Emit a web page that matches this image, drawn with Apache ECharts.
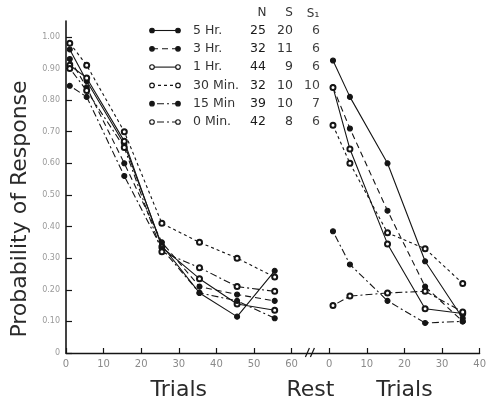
<!DOCTYPE html>
<html><head><meta charset="utf-8">
<script src="https://cdn.jsdelivr.net/npm/echarts@6/dist/echarts.min.js"></script>
<style>html,body{margin:0;padding:0;background:#fff}#c{width:489px;height:404px}</style>
</head><body><div id="c"></div>
<script>
// ---- data ----
const groupNames = ['5 Hr.', '3 Hr.', '1 Hr.', '30 Min.', '15 Min', '0 Min.'];
const nValues = [25, 32, 44, 32, 39, 42];
const sValues = [20, 11, 9, 10, 10, 8];
const s1Values = [6, 6, 6, 10, 7, 6];

const trialsBefore = [1, 5.5, 15.5, 25.5, 35.5, 45.5, 55.5];
const trialsAfter = [1, 5.5, 15.5, 25.5, 35.5];
const restOffset = 70; // right-hand trial scale begins after the rest break

const before5Hr  = [0.96, 0.86, 0.66, 0.34, 0.19, 0.115, 0.26];
const before3Hr  = [0.93, 0.84, 0.60, 0.35, 0.21, 0.185, 0.165];
const before1Hr  = [0.91, 0.87, 0.67, 0.335, 0.235, 0.155, 0.135];
const before30Min = [0.98, 0.91, 0.70, 0.41, 0.35, 0.30, 0.24];
const before15Min = [0.845, 0.81, 0.56, 0.33, 0.19, 0.165, 0.11];
const before0Min  = [0.90, 0.83, 0.65, 0.32, 0.27, 0.21, 0.195];

const after5Hr  = [0.925, 0.81, 0.60, 0.29, 0.11];
const after3Hr  = [0.84, 0.71, 0.45, 0.21, 0.10];
const after1Hr  = [0.84, 0.645, 0.345, 0.14, 0.125];
const after30Min = [0.72, 0.60, 0.38, 0.33, 0.22];
const after15Min = [0.385, 0.28, 0.165, 0.095, 0.10];
const after0Min  = [0.15, 0.18, 0.19, 0.195, 0.13];

const yTicks = [0, 0.1, 0.2, 0.3, 0.4, 0.5, 0.6, 0.7, 0.8, 0.9, 1.0];
const xTicks = [0, 10, 20, 30, 40, 50, 60, 70, 80, 90, 100, 110];

// ---- styles ----
const beforeSets = [before5Hr, before3Hr, before1Hr, before30Min, before15Min, before0Min];
const afterSets = [after5Hr, after3Hr, after1Hr, after30Min, after15Min, after0Min];
const dashes = ['solid', [6, 4], 'solid', [3, 3], [2, 3, 7, 3], [2, 3, 7, 3]];
const filled = [true, true, false, false, true, false];
const INK = '#151515';
const FONT = 'DejaVu Sans';

const series = [];
groupNames.forEach((name, i) => {
  const common = {
    type: 'line', name: name, animation: false,
    symbol: filled[i] ? 'circle' : 'emptyCircle', symbolSize: 5,
    itemStyle: { color: INK, borderColor: INK, borderWidth: 1.1 },
    lineStyle: { color: INK, width: 1.1, type: dashes[i] },
    emphasis: { disabled: true }
  };
  series.push(Object.assign({}, common, { data: trialsBefore.map((t, k) => [t, beforeSets[i][k]]) }));
  series.push(Object.assign({}, common, { data: trialsAfter.map((t, k) => [t + restOffset, afterSets[i][k]]) }));
});

const chart = echarts.init(document.getElementById('c'), null, { renderer: 'canvas' });
chart.setOption({
  backgroundColor: '#fff',
  animation: false,
  grid: { left: 66, right: 2, top: 21, bottom: 51 },
  xAxis: {
    type: 'value', min: 0, max: 110, interval: 10,
    axisLine: { lineStyle: { color: INK, width: 1.4 } },
    axisTick: { inside: true, length: 5, lineStyle: { color: INK, width: 1.2 }, customValues: xTicks },
    axisLabel: {
      customValues: xTicks, color: '#8a8a8a', fontSize: 10, fontFamily: FONT, margin: 6,
      formatter: v => (v <= 60 ? String(v) : String(v - restOffset))
    },
    splitLine: { show: false }
  },
  yAxis: {
    type: 'value', min: 0, max: 1.05,
    name: 'Probability of Response', nameLocation: 'middle', nameGap: 35,
    nameTextStyle: { color: '#2a2a2a', fontSize: 22, fontFamily: FONT, fontWeight: 'normal', padding: [0, 44, 0, 0] },
    axisLine: { show: true, lineStyle: { color: INK, width: 1.6 } },
    axisTick: { show: true, inside: true, length: 6, lineStyle: { color: INK, width: 1.2 }, customValues: yTicks },
    axisLabel: {
      customValues: yTicks, color: '#9a9a9a', fontSize: 8, fontFamily: FONT, margin: 6,
      formatter: v => (v === 0 ? '0' : v.toFixed(2))
    },
    splitLine: { show: false }
  },
  series: series
});

// ---- decorations: legend table, axis captions, break mark ----
const g = [];
const rowY0 = 30.5, rowStep = 18.3;
const txt = (x, y, s, align, size, color) => ({
  type: 'text', x: x, y: y, silent: true,
  style: { text: s, fill: color || '#222', font: `normal ${size || 12}px "${FONT}"`, align: align || 'left', verticalAlign: 'middle' }
});
g.push(txt(262, 13, 'N', 'center', 12, '#333'));
g.push(txt(289, 13, 'S', 'center', 12, '#333'));
g.push(txt(313, 14, 'S₁', 'center', 12, '#333'));
groupNames.forEach((name, i) => {
  const y = rowY0 + i * rowStep;
  g.push({ type: 'line', silent: true, shape: { x1: 152, y1: y, x2: 178, y2: y },
    style: { stroke: INK, lineWidth: 1.1, lineDash: Array.isArray(dashes[i]) ? dashes[i] : null } });
  [152, 178].forEach(cx => g.push({ type: 'circle', silent: true, shape: { cx: cx, cy: y, r: 2.3 },
    style: { fill: filled[i] ? INK : '#fff', stroke: INK, lineWidth: 1.1 } }));
  g.push(txt(193, y, name, 'left', 12.5, '#333'));
  g.push(txt(266, y, String(nValues[i]), 'right', 12.5, '#1a1a1a'));
  g.push(txt(293, y, String(sValues[i]), 'right', 12.5, '#333'));
  g.push(txt(320, y, String(s1Values[i]), 'right', 12.5, '#444'));
});
const y0 = chart.convertToPixel({ gridIndex: 0 }, [0, 0])[1];
const capY = 390;
g.push(txt(chart.convertToPixel({ gridIndex: 0 }, [30, 0])[0], capY, 'Trials', 'center', 22, '#2a2a2a'));
g.push(txt(chart.convertToPixel({ gridIndex: 0 }, [65, 0])[0], capY, 'Rest', 'center', 22, '#2a2a2a'));
g.push(txt(chart.convertToPixel({ gridIndex: 0 }, [90, 0])[0], capY, 'Trials', 'center', 22, '#2a2a2a'));
const bx = chart.convertToPixel({ gridIndex: 0 }, [65, 0])[0];
g.push({ type: 'rect', silent: true, shape: { x: bx - 4, y: y0 - 3, width: 8, height: 6 }, style: { fill: '#fff' } });
g.push({ type: 'line', silent: true, shape: { x1: bx - 5, y1: y0 + 4, x2: bx - 1, y2: y0 - 5 }, style: { stroke: INK, lineWidth: 1.2 } });
g.push({ type: 'line', silent: true, shape: { x1: bx + 0, y1: y0 + 4, x2: bx + 4, y2: y0 - 5 }, style: { stroke: INK, lineWidth: 1.2 } });
chart.setOption({ graphic: { elements: g } });
</script>
</body></html>
